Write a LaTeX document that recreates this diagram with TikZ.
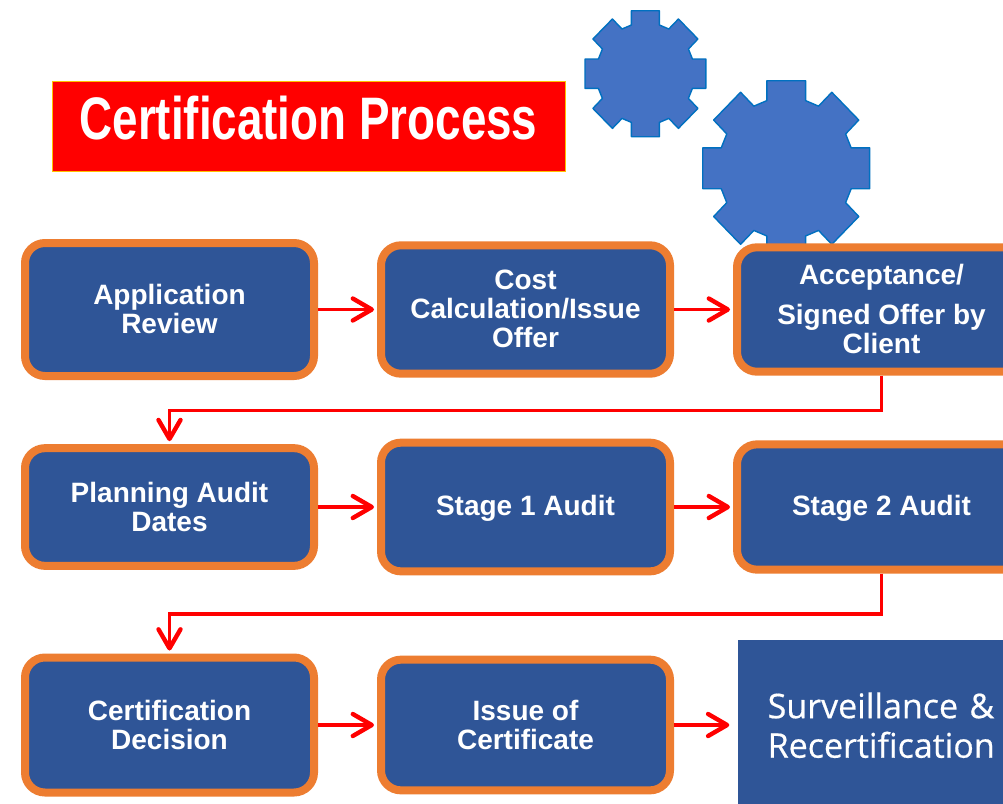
\documentclass[tikz,border=0pt]{standalone}
\usepackage{fontspec}
\usepackage{graphicx}
\usetikzlibrary{arrows.meta}
\setmainfont[Ligatures=NoCommon]{Liberation Sans}
\newfontfamily\survfont[Ligatures=NoCommon,FakeBold=0.5]{Open Sans}
\definecolor{boxblue}{HTML}{2F5597}
\definecolor{boxorange}{HTML}{ED7D31}
\definecolor{gearblue}{HTML}{4472C4}
\definecolor{gearline}{HTML}{0070C0}
\definecolor{titlegold}{HTML}{FFC000}
\newcommand{\lowerby}[1]{\rule{0pt}{\dimexpr20.4pt+2\dimexpr#1\relax\relax}}
\newcommand{\raiseby}[1]{\rule[-\dimexpr.3pt+2\dimexpr#1\relax\relax]{0pt}{0pt}}
\tikzset{
  x=1pt,y=-1pt,
  stepbox/.style={draw=boxorange,line width=8pt,fill=boxblue,rounded corners=20pt,
    minimum width=289pt,inner sep=0pt,text=white,align=center,
    font=\fontsize{28}{29}\selectfont\bfseries},
  plainbox/.style={fill=boxblue,minimum width=297pt,minimum height=170pt,inner sep=0pt,
    text=white,align=left,text width=238pt,
    font=\survfont\fontsize{34}{39.5}\selectfont},
  titlebox/.style={draw=titlegold,line width=.6pt,fill=red,minimum width=513pt,minimum height=90pt,
    inner sep=0pt,text=white,font=\fontsize{60}{60}\selectfont\bfseries},
  flow/.style={draw=red,line width=3.6pt,-{Straight Barb[length=19pt,width=22pt,line width=4.4pt,round]},shorten >=3pt},
  gearshape/.style={draw=gearline,line width=1.4pt,fill=gearblue,line join=round},
  pics/gear/.style={code={
    \path[gearshape] (14,-63)--(14,-48.7)--(23.4,-44.7)--(33,-54.7)--(52.5,-34.7)--(43,-24.7)--(47,-14.7)--(60.4,-14.7)
      --(60.4,14.7)--(47,14.7)--(43,24.7)--(52.5,34.7)--(33,54.7)--(23.4,44.7)--(14,48.7)--(14,63)
      --(-14,63)--(-14,48.7)--(-23.4,44.7)--(-33,54.7)--(-52.5,34.7)--(-43,24.7)--(-47,14.7)--(-60.4,14.7)
      --(-60.4,-14.7)--(-47,-14.7)--(-43,-24.7)--(-52.5,-34.7)--(-33,-54.7)--(-23.4,-44.7)--(-14,-48.7)--(-14,-63)--cycle;
  }}
}
\begin{document}
\begin{tikzpicture}
\clip (0,0) rectangle (1003,803);
\fill[white] (0,0) rectangle (1003,803);
% gears
\pic at (645.4,73.7) {gear};
\pic[xscale=1.382,yscale=1.39] at (786.2,168.3) {gear};
% title
\node[titlebox] (title) at (308.5,126) {\raisebox{17pt}{\scalebox{0.763}[1]{Certification Process}}};
% row 1
\node[stepbox,minimum height=133pt] (a) at (169.5,309.5) {Application\\Review\raiseby{.5pt}};
\node[stepbox,minimum height=128.4pt] (b) at (525.5,309.5) {Cost\\Calculation/Issue\\Offer\raiseby{.5pt}};
\node[stepbox,minimum height=124.4pt] (c) at (881.5,309.5) {Acceptance/\\[11pt]Signed Offer by\\Client\raiseby{.5pt}};
% row 2
\node[stepbox,minimum height=117.7pt] (d) at (169.5,507) {Planning Audit\\Dates};
\node[stepbox,minimum height=128.7pt] (e) at (525.5,507) {\lowerby{1.5pt}Stage 1 Audit};
\node[stepbox,minimum height=125.3pt] (f) at (881.5,507) {\lowerby{1.5pt}Stage 2 Audit};
% row 3
\node[stepbox,minimum height=135pt] (g) at (169.5,725) {Certification\\Decision};
\node[stepbox,minimum height=130.7pt] (h) at (525.5,725) {Issue of\\Certificate};
\node[plainbox,anchor=north west] (i) at (738,640) {Surveillance \&\\Recertification};
% elbow rails
\coordinate (railA) at (0,410.3);
\coordinate (railB) at (0,614);
% connectors
\draw[flow] (a.east) -- (b.west);
\draw[flow] (b.east) -- (c.west);
\draw[flow] (c.south) -- (c.south |- railA) -- (d.north |- railA) -- (d.north);
\draw[flow] (d.east) -- (e.west);
\draw[flow] (e.east) -- (f.west);
\draw[flow] (f.south) -- (f.south |- railB) -- (g.north |- railB) -- (g.north);
\draw[flow] (g.east) -- (h.west);
\draw[flow,shorten >=8.7pt] (h.east) -- (i.west |- h.east);
\end{tikzpicture}
\end{document}
